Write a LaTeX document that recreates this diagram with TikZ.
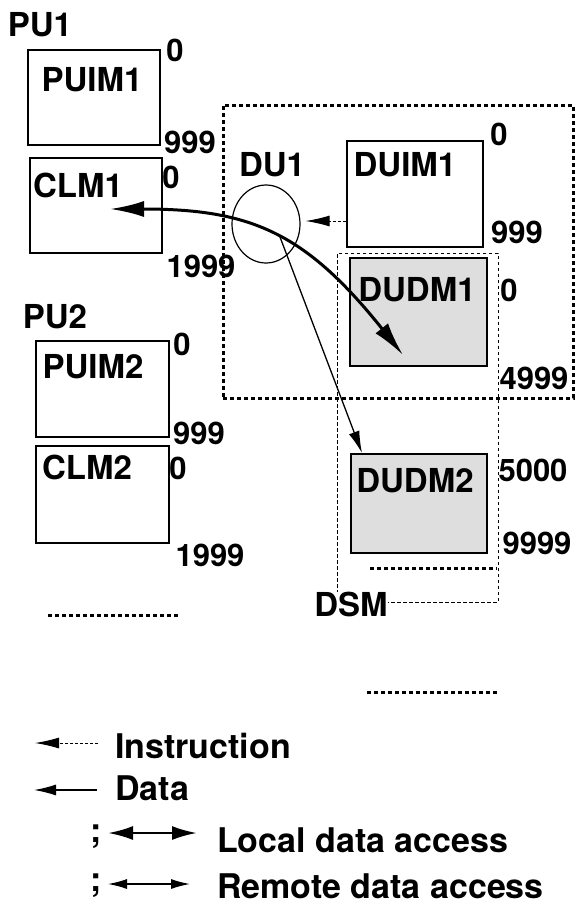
\documentclass[tikz,border=0pt]{standalone}
\usepackage{fontspec}
\setmainfont{TeX Gyre Heros}
\usetikzlibrary{arrows.meta,shapes.geometric}
\begin{document}
\begin{tikzpicture}[x=1pt,y=-1pt,
  membox/.style={draw,line width=1.6pt,inner sep=0pt,rectangle},
  shadedbox/.style={membox,fill=black!13},
  lbl/.style={font=\fontsize{33}{33}\selectfont\bfseries,inner sep=0pt},
  num/.style={font=\fontsize{31}{31}\selectfont\bfseries,inner sep=0pt},
  leg/.style={font=\fontsize{34}{34}\selectfont\bfseries,inner sep=0pt,anchor=west},
  bigdots/.style={line width=3pt,dash pattern=on 4pt off 3pt},
  thindash/.style={line width=1pt,dash pattern=on 3.5pt off 2.5pt},
  instr/.style={line width=1pt,dash pattern=on 3pt off 2pt,-{Latex[length=24pt,width=11pt]}},
  dataarr/.style={line width=1.3pt,-{Latex[length=22pt,width=11pt]}},
  localarr/.style={line width=3pt,{Latex[length=34pt,width=16pt]}-{Latex[length=34pt,width=16pt]}},
  leglocal/.style={line width=2.5pt,{Latex[length=25pt,width=14pt]}-{Latex[length=25pt,width=14pt]}},
  legremote/.style={line width=1.3pt,{Latex[length=19pt,width=10pt]}-{Latex[length=19pt,width=10pt]}}
]
\useasboundingbox (0,0) rectangle (577,906);

% DU1 region and DSM region
\node[draw,bigdots,minimum width=350pt,minimum height=293pt,inner sep=0pt] (du1box) at (398,251.5) {};
\node[draw,thindash,minimum width=161pt,minimum height=349pt,inner sep=0pt] (dsmbox) at (417.5,427.5) {};

% PU1
\node[lbl] (pu1) at (40,25) {PU1};
\node[membox,minimum width=132pt,minimum height=95pt] (puim1) at (94,97.5) {};
\node[lbl] (puim1l) at (92,80) {PUIM1};
\node[num] (puim1a) at (175,50) {0};
\node[num] (puim1b) at (190,142) {999};
\node[membox,minimum width=132pt,minimum height=95pt] (clm1) at (96,205.5) {};
\node[lbl] (clm1l) at (78,185) {CLM1};
\node[num] (clm1a) at (171,177) {0};
\node[num] (clm1b) at (201,266) {1999};

% PU2
\node[lbl] (pu2) at (55,317) {PU2};
\node[membox,minimum width=133pt,minimum height=96pt] (puim2) at (102.5,389) {};
\node[lbl] (puim2l) at (93,367) {PUIM2};
\node[num] (puim2a) at (182,344) {0};
\node[num] (puim2b) at (199,433) {999};
\node[membox,minimum width=133pt,minimum height=97pt] (clm2) at (102.5,494.5) {};
\node[lbl] (clm2l) at (87,467) {CLM2};
\node[num] (clm2a) at (178,468) {0};
\node[num] (clm2b) at (210,555) {1999};

% DU1
\node[lbl] (du1l) at (272,165) {DU1};
\node[draw,line width=1.2pt,ellipse,minimum width=68pt,minimum height=78pt,inner sep=0pt] (du1) at (266,224) {};
\node[membox,minimum width=136pt,minimum height=106pt] (duim1) at (415,194) {};
\node[lbl] (duim1l) at (405,165) {DUIM1};
\node[num] (duim1a) at (499,134) {0};
\node[num] (duim1b) at (517,232) {999};
\node[shadedbox,minimum width=137pt,minimum height=108pt] (dudm1) at (418.5,312) {};
\node[lbl] (dudm1l) at (417,290) {DUDM1};
\node[num] (dudm1a) at (509,290) {0};
\node[num] (dudm1b) at (534,378) {4999};
\node[shadedbox,minimum width=136pt,minimum height=99pt] (dudm2) at (419,503.5) {};
\node[lbl] (dudm2l) at (415,481) {DUDM2};
\node[num] (dudm2a) at (533,470) {5000};
\node[num] (dudm2b) at (537,543) {9999};
\node[lbl,fill=white] (dsm) at (351,604) {DSM};

% dotted continuation marks
\coordinate (d1a) at (48,615);  \coordinate (d1b) at (178,615);
\coordinate (d2a) at (370,568); \coordinate (d2b) at (497,568);
\coordinate (d3a) at (367,692); \coordinate (d3b) at (497,692);
\draw[bigdots] (d1a) -- (d1b);
\draw[bigdots] (d2a) -- (d2b);
\draw[bigdots] (d3a) -- (d3b);

% connectors
\coordinate (ia) at ([yshift=-27pt]duim1.west);
\draw[instr,shorten >=5pt] (ia) -- (ia -| du1.east);
\coordinate (la) at (110,209);
\coordinate (lb) at (403,355);
\draw[localarr] (la) .. controls (250,209) and (305,232) .. (lb);
\coordinate (ra) at (280,237);
\coordinate (rb) at (362,453);
\draw[dataarr] (ra) -- (rb);

% legend
\coordinate (g1a) at (35,743);  \coordinate (g1b) at (98,743);
\coordinate (g2a) at (34,790);  \coordinate (g2b) at (97,790);
\coordinate (g3a) at (108,833); \coordinate (g3b) at (197,833);
\coordinate (g4a) at (108,884); \coordinate (g4b) at (190,884);
\draw[instr] (g1b) -- (g1a);
\draw[dataarr] (g2b) -- (g2a);
\draw[leglocal] (g3a) -- (g3b);
\draw[legremote] (g4a) -- (g4b);
\node[leg] (t1) at (115,746) {Instruction};
\node[leg] (t2) at (115,788) {Data};
\node[leg] (t3) at (217,840) {Local data access};
\node[leg] (t4) at (217,886) {Remote data access};
\node[leg] (s3) at (90,837) {;};
\node[leg] (s4) at (90,886) {;};
\end{tikzpicture}
\end{document}
